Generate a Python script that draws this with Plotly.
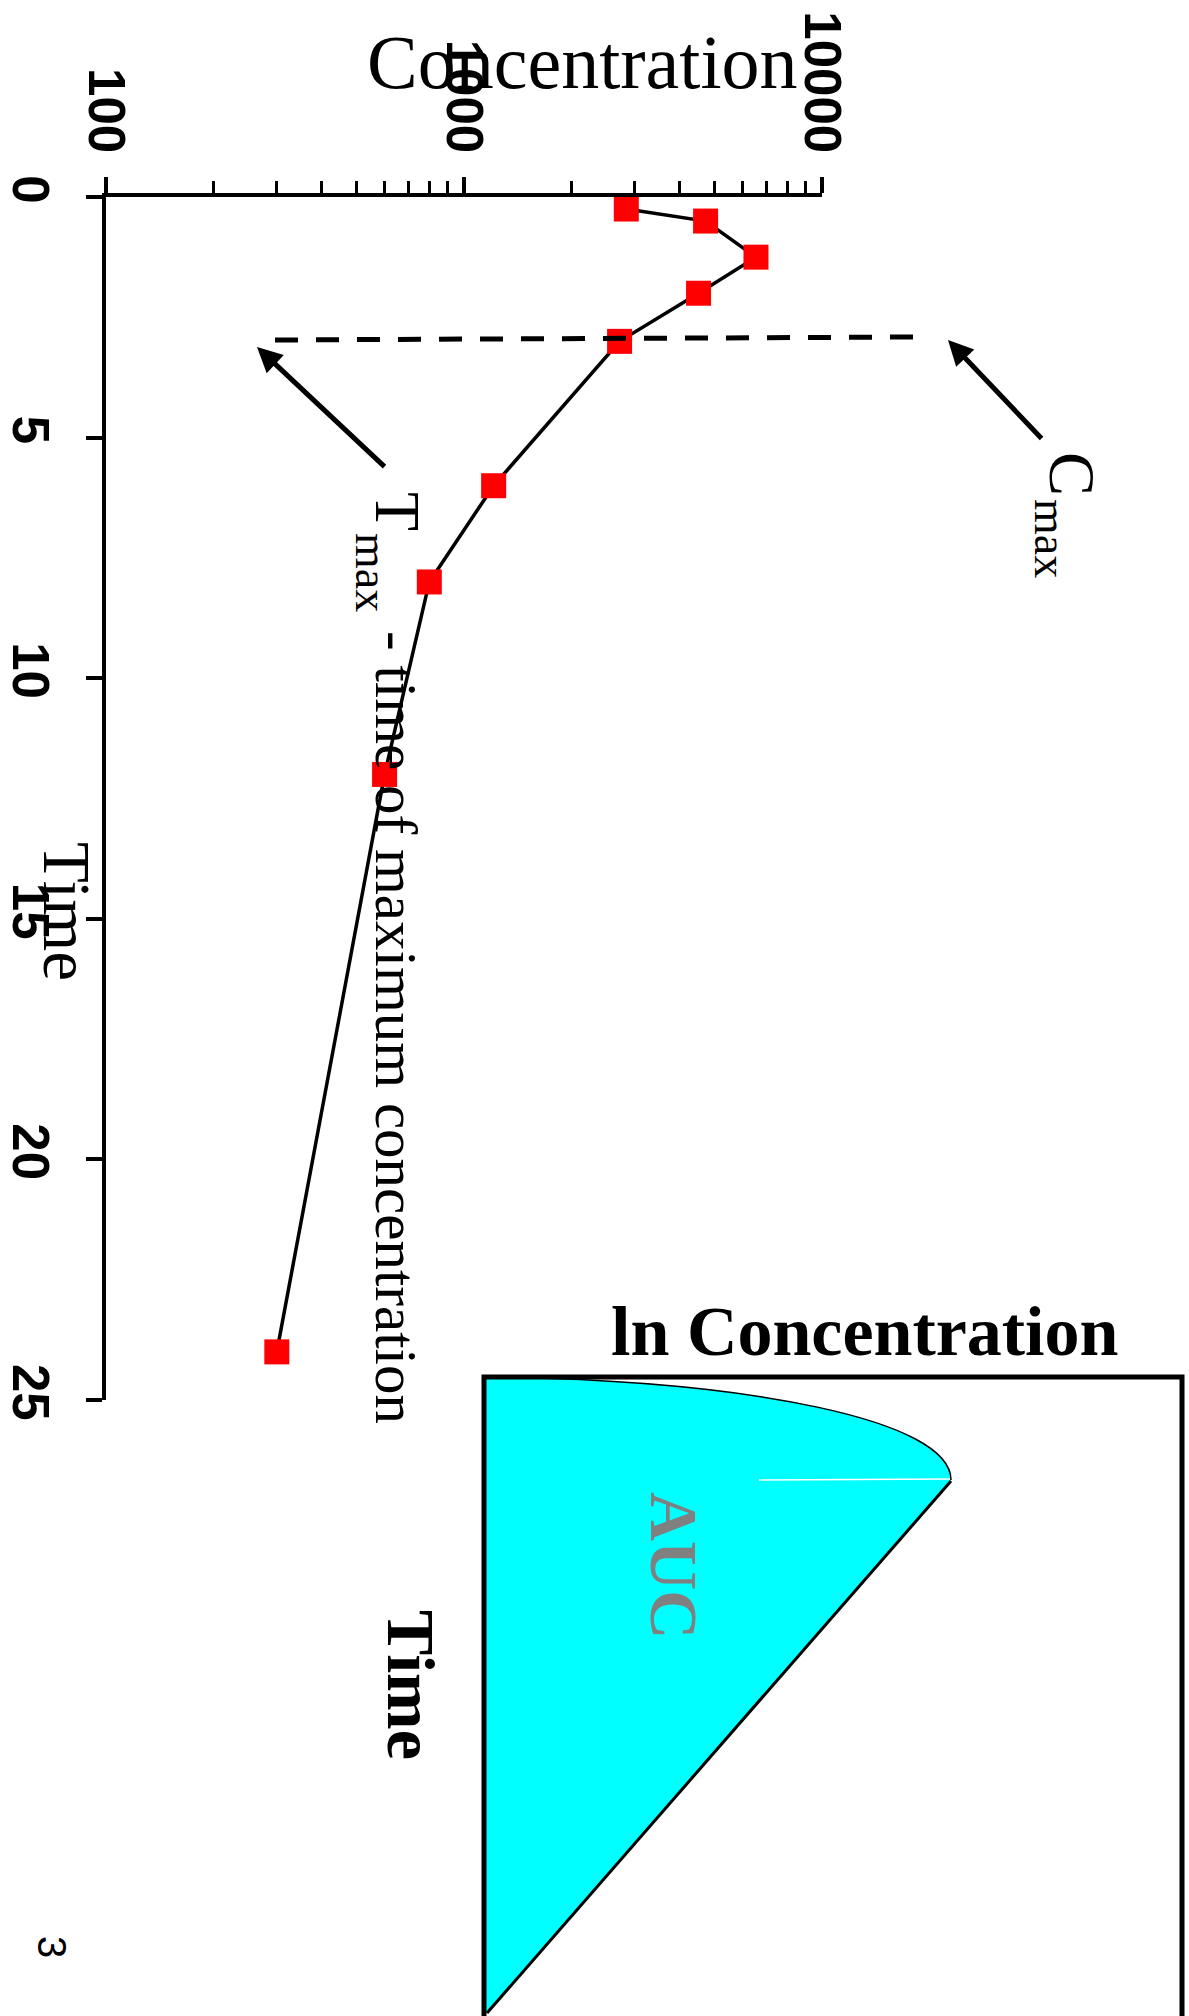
import plotly.graph_objects as go

# ---- data ----
time_h = [0.25, 0.5, 1.25, 2, 3, 6, 8, 12, 24]
concentration = [2840, 4730, 6540, 4520, 2720, 1210, 800, 600, 300]

conc_tickvals = [100, 1000, 10000]
conc_ticktext = ["100", "1000", "10000"]
conc_minor = [200, 300, 400, 500, 600, 700, 800, 900,
              2000, 3000, 4000, 5000, 6000, 7000, 8000, 9000]
time_tickvals = [0, 5, 10, 15, 20, 25]

# ---- layout geometry (pixels) ----
W, H = 1189, 2016
L, T, PW, PH = 106, 197, 716, 1203


def px(x):
    return (x - L) / PW


def py(y):
    return (T + PH - y) / PH


SERIF = "Liberation Serif"
SANS = "Liberation Sans"

fig = go.Figure()
fig.add_trace(go.Scatter(
    x=concentration, y=time_h, mode="lines+markers",
    line=dict(color="black", width=3.5),
    marker=dict(symbol="square", size=25, color="#ff0000", line=dict(width=0)),
    cliponaxis=False, showlegend=False,
))

tickfont = dict(family=SANS, size=51, color="black", weight="bold")

fig.update_layout(
    template="none",
    width=W, height=H,
    margin=dict(l=L, r=W - L - PW, t=T, b=H - T - PH, pad=0, autoexpand=False),
    paper_bgcolor="white", plot_bgcolor="white",
    xaxis=dict(
        type="log", range=[2, 4], side="top", automargin=False,
        showline=True, linecolor="black", linewidth=4,
        ticks="outside", ticklen=16, tickwidth=4, tickcolor="black",
        tickmode="array", tickvals=conc_tickvals, ticktext=conc_ticktext,
        tickangle=90, tickfont=tickfont, ticklabelstandoff=6,
        minor=dict(tickmode="array", tickvals=conc_minor, ticks="outside",
                   ticklen=12, tickwidth=3, tickcolor="black", showgrid=False),
        showgrid=False, zeroline=False,
    ),
    yaxis=dict(
        range=[25, 0], automargin=False,
        showline=True, linecolor="black", linewidth=4,
        ticks="outside", ticklen=16, tickwidth=4, tickcolor="black",
        tickmode="array", tickvals=time_tickvals,
        tickangle=90, tickfont=tickfont, ticklabelstandoff=12,
        showgrid=False, zeroline=False,
    ),
)

shapes = []
# dashed Cmax level line
shapes.append(dict(type="line", xref="paper", yref="paper",
                   x0=px(275), y0=py(340), x1=px(915), y1=py(337),
                   line=dict(color="black", width=5, dash="23px,18px")))

# AUC inset: cyan area
P0, P1, P2, P3 = (484, 1377), (750, 1380), (951, 1420), (951, 1480)
BL = (487, 2013)


def pp(p):
    return f"{px(p[0]):.5f},{py(p[1]):.5f}"


area_path = (f"M {pp(P0)} C {pp(P1)} {pp(P2)} {pp(P3)} "
             f"L {pp(BL)} L {pp((484, 2013))} Z")
shapes.append(dict(type="path", xref="paper", yref="paper", path=area_path,
                   fillcolor="#00ffff", line=dict(width=0), layer="above"))
shapes.append(dict(type="path", xref="paper", yref="paper",
                   path=f"M {pp(P0)} C {pp(P1)} {pp(P2)} {pp(P3)}",
                   line=dict(color="black", width=1.5), layer="above"))
shapes.append(dict(type="line", xref="paper", yref="paper",
                   x0=px(951), y0=py(1481), x1=px(487), y1=py(2013),
                   line=dict(color="black", width=3), layer="above"))
shapes.append(dict(type="line", xref="paper", yref="paper",
                   x0=px(759), y0=py(1480), x1=px(950), y1=py(1479),
                   line=dict(color="white", width=1.5), layer="above"))
# inset frame
shapes.append(dict(type="rect", xref="paper", yref="paper",
                   x0=px(484), y0=py(1377), x1=px(1182), y1=py(2040),
                   line=dict(color="black", width=5), fillcolor="rgba(0,0,0,0)",
                   layer="above"))
fig.update_layout(shapes=shapes)

ann = []


def text(x, y, s, size, angle=0, bold=False, color="black", family=SERIF):
    ann.append(dict(xref="paper", yref="paper", x=px(x), y=py(y), text=s,
                    showarrow=False, textangle=angle, xanchor="center",
                    yanchor="middle",
                    font=dict(family=family, size=size, color=color,
                              weight="bold" if bold else "normal")))


def arrow(tip, tail, width):
    ann.append(dict(xref="paper", yref="paper", x=px(tip[0]), y=py(tip[1]),
                    ax=tail[0] - tip[0], ay=tail[1] - tip[1], text="",
                    showarrow=True, arrowhead=2, arrowsize=1,
                    arrowwidth=width, arrowcolor="black", standoff=0))


text(582, 62, "Concentration", 76)
text(67, 911, "Time", 67, angle=90)

# Cmax
text(1073, 474, "C", 66, angle=90)
text(1051, 538, "max", 46, angle=90)
arrow((948, 340), (1043, 440), 5)

# Tmax
text(398, 511, "T", 64, angle=90)
text(372, 572, "max", 46, angle=90)
text(396, 1027, "- time of maximum concentration", 59, angle=90)
arrow((257, 347), (386, 468), 5)

# inset texts
text(865, 1331, "ln Concentration", 70, bold=True)
text(674, 1565, "AUC", 68, angle=90, bold=True, color="#808080")
text(411, 1685, "Time", 68, angle=90, bold=True)

# page number
text(52, 1947, "3", 40, angle=90, family=SANS)

fig.update_layout(annotations=ann)

fig.write_html("out.html")
